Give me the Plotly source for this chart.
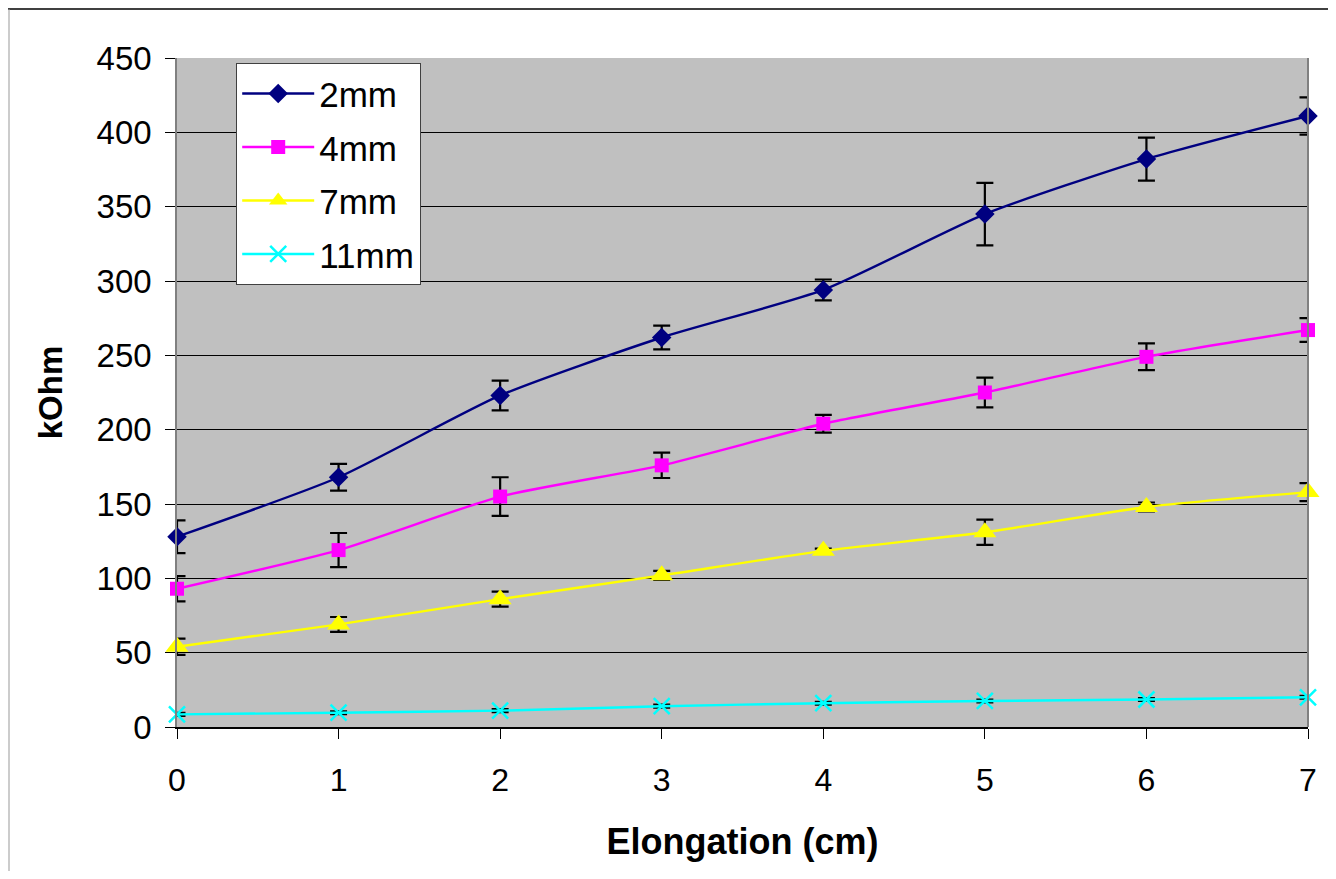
import plotly.graph_objects as go

elongation = [0, 1, 2, 3, 4, 5, 6, 7]

r_2mm = [128, 168, 223, 262, 294, 345, 382, 411]
e_2mm = [11, 9, 10, 8, 7, 21, 14.5, 12.5]

r_4mm = [93, 119, 155, 176, 204, 225, 249, 267]
e_4mm = [8.5, 11.5, 13, 8.5, 6, 10, 9, 8]

r_7mm = [54, 69, 86, 102, 118.5, 131, 148, 158]
e_7mm = [5.5, 5, 5, 3, 1.5, 8.5, 3, 6]

r_11mm = [8.5, 9.6, 11, 14, 16, 17.5, 18.5, 20]
e_11mm = [1, 1, 1, 1, 1, 1, 1, 1]

series_names = ["2mm", "4mm", "7mm", "11mm"]
series_vals = [r_2mm, r_4mm, r_7mm, r_11mm]
series_errs = [e_2mm, e_4mm, e_7mm, e_11mm]
series_colors = ["#000080", "#FF00FF", "#FFFF00", "#00FFFF"]
series_symbols = ["diamond", "square", "triangle-up", "x-thin"]
series_sizes = [15, 14, 20, 16]

y_ticks = [0, 50, 100, 150, 200, 250, 300, 350, 400, 450]

FONT = "Liberation Sans, Arial, sans-serif"

# page body has an 8px margin; figure is sized to fit inside it
W, H = 1320, 863
L, R, T, B = 169, 20, 50, 144
PW, PH = W - L - R, H - T - B

fig = go.Figure()
for name, vals, errs, col, sym, sz in zip(series_names, series_vals, series_errs,
                                          series_colors, series_symbols, series_sizes):
    marker = dict(symbol=sym, size=sz, color=col)
    if sym == "x-thin":
        marker["line"] = dict(color=col, width=2.5)
    else:
        marker["line"] = dict(width=0)
    fig.add_trace(go.Scatter(
        x=elongation, y=vals, name=name, mode="lines+markers",
        line=dict(color=col, width=2.4, shape="spline", smoothing=0.6),
        marker=marker,
        error_y=dict(type="data", array=errs, visible=True, color="black",
                     thickness=2.2, width=8.5),
        legendgroup=name,
        cliponaxis=False,
    ))

fig.update_layout(
    width=W, height=H,
    paper_bgcolor="white", plot_bgcolor="#C0C0C0",
    margin=dict(l=L, r=R, t=T, b=B),
    font=dict(family=FONT, color="black", size=32),
    showlegend=True,
    legend=dict(
        x=(236 - 177) / 1131, y=(727 - 63) / 669, xanchor="left", yanchor="top",
        bgcolor="white", bordercolor="#404040", borderwidth=1.2,
        font=dict(family=FONT, size=35, color="black"),
        traceorder="grouped", tracegroupgap=5,
        itemwidth=72,
    ),
)

fig.update_xaxes(
    range=[0, 7], tickvals=elongation, ticktext=[str(v) for v in elongation],
    showgrid=False, zeroline=False,
    showline=True, linecolor="black", linewidth=1.5, mirror=False,
    ticks="outside", ticklen=10, tickcolor="black", tickwidth=1,
    ticklabelstandoff=14,
    tickfont=dict(family=FONT, size=32),
    title=dict(text="<b>Elongation (cm)</b>", font=dict(family=FONT, size=36), standoff=32),
)
fig.update_yaxes(
    range=[0, 450], tickvals=y_ticks, ticktext=[str(v) for v in y_ticks],
    showgrid=True, gridcolor="black", gridwidth=1, zeroline=False,
    showline=True, linecolor="#808080", linewidth=1.5, mirror=False,
    ticks="outside", ticklen=10, tickcolor="black", tickwidth=1,
    ticklabelstandoff=7,
    tickfont=dict(family=FONT, size=33),
    title=dict(text="<b>kOhm</b>", font=dict(family=FONT, size=33), standoff=24),
)

def px_x(p):
    return (p - 8 - L) / PW

def px_y(p):
    return (H - B - (p - 8)) / PH

# right border of plot area
fig.add_shape(type="line", xref="paper", yref="paper", x0=1, x1=1, y0=0, y1=1,
              line=dict(color="#808080", width=2))
# page frame: top rule and left rule
fig.add_shape(type="line", xref="paper", yref="paper",
              x0=px_x(8), x1=px_x(1336), y0=px_y(9), y1=px_y(9),
              line=dict(color="black", width=1.5))
fig.add_shape(type="line", xref="paper", yref="paper",
              x0=px_x(9), x1=px_x(9), y0=px_y(871), y1=px_y(9),
              line=dict(color="#999999", width=1))

fig.write_html("out.html")
